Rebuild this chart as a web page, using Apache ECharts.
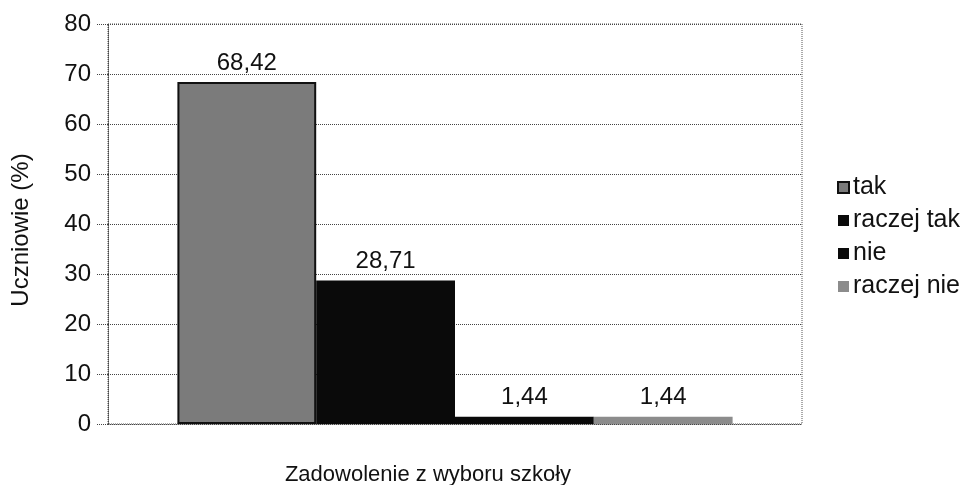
<!DOCTYPE html>
<html>
<head>
<meta charset="utf-8">
<script src="https://cdn.jsdelivr.net/npm/echarts@6/dist/echarts.min.js"></script>
<style>
  html, body { margin: 0; padding: 0; background: #fff; }
  #chart { width: 968px; height: 485px; }
</style>
</head>
<body>
<div id="chart"></div>
<script>
// dane
var kategorie = ['Zadowolenie z wyboru szkoły'];
var serieNazwy = ['tak', 'raczej tak', 'nie', 'raczej nie'];
var wartosci = [68.42, 28.71, 1.44, 1.44];
var kolory = ['#7b7b7b', '#0a0a0a', '#0a0a0a', '#8c8c8c'];
var osY = { min: 0, max: 80, interval: 10 };

var FONT = 'Liberation Sans, Arial, sans-serif';

var chart = echarts.init(document.getElementById('chart'));

var series = [];
for (var i = 0; i < serieNazwy.length; i++) {
    series.push({
        name: serieNazwy[i],
        type: 'bar',
        data: [wartosci[i]],
        barGap: '0%',
        barCategoryGap: '20%',
        itemStyle: {
            color: kolory[i],
            borderColor: '#111',
            borderWidth: i === 0 ? 2 : 0
        },
        label: {
            show: true,
            position: 'top',
            distance: 7,
            color: '#111',
            fontFamily: FONT,
            fontSize: 24,
            formatter: function (p) {
                return p.value.toFixed(2).replace('.', ',');
            }
        }
    });
}

var option = {
    backgroundColor: '#ffffff',
    animation: false,
    grid: {
        left: 108,
        right: 166,
        top: 24,
        bottom: 61,
        containLabel: false,
        outerBoundsMode: 'none',
        show: true,
        borderColor: '#555',
        borderWidth: 1,
        borderType: 'dotted'
    },
    legend: {
        orient: 'vertical',
        left: 832,
        top: 170,
        itemWidth: 11,
        itemHeight: 11,
        itemGap: 8,
        icon: 'rect',
        textStyle: { fontFamily: FONT, fontSize: 25, color: '#111', padding: [0, 0, 0, -1] },
        data: serieNazwy
    },
    xAxis: {
        type: 'category',
        data: kategorie,
        name: 'Zadowolenie z wyboru szkoły',
        nameLocation: 'middle',
        nameGap: 40,
        nameTextStyle: { fontFamily: FONT, fontSize: 22, color: '#111', padding: [0, 54, 0, 0] },
        axisLine: { show: false },
        axisTick: { show: false },
        axisLabel: { show: false }
    },
    yAxis: {
        type: 'value',
        min: osY.min,
        max: osY.max,
        interval: osY.interval,
        name: 'Uczniowie (%)',
        nameLocation: 'middle',
        nameGap: 75,
        nameTextStyle: { fontFamily: FONT, fontSize: 24, color: '#111', padding: [0, 12, 0, 0] },
        axisLine: { show: true, lineStyle: { color: '#444', type: 'dotted', width: 1 } },
        axisTick: { show: true, length: 11, lineStyle: { color: '#444', type: 'dotted' } },
        axisLabel: { fontFamily: FONT, fontSize: 24, color: '#111', margin: 17 },
        splitLine: { show: true, lineStyle: { color: '#444', type: 'dotted', width: 1 } }
    },
    series: series
};

chart.setOption(option);
</script>
</body>
</html>
